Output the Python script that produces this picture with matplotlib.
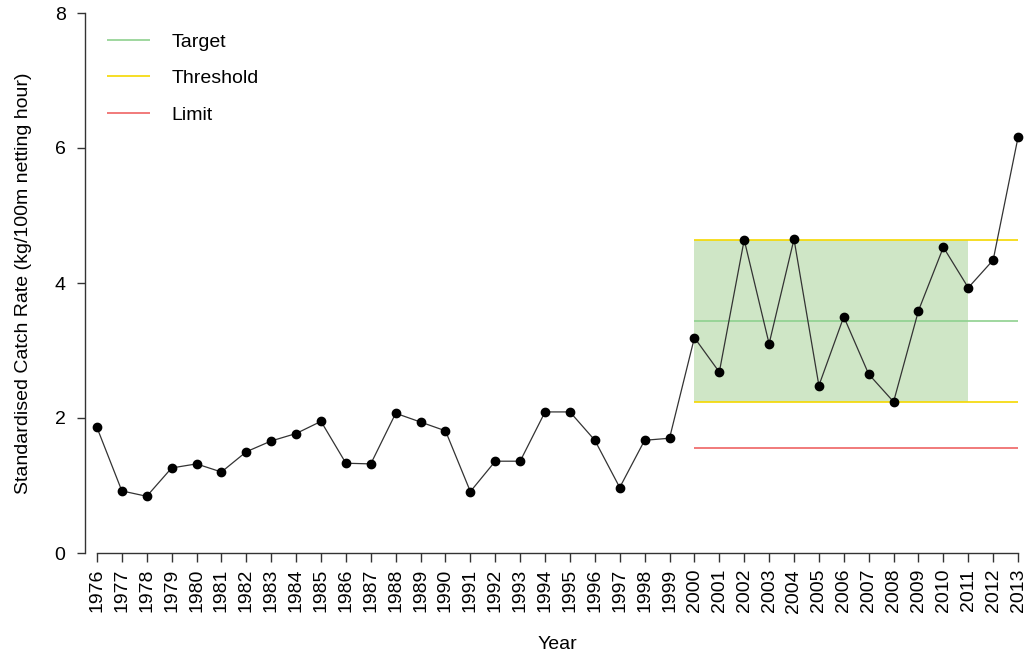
# Standardised catch rate by year with target / threshold / limit reference points
import numpy as np
import matplotlib.pyplot as plt
from matplotlib.patches import Rectangle

plt.rcParams['font.family'] = ['Liberation Sans', 'DejaVu Sans']

years = np.arange(1976, 2014)
catch_rate = [1.86, 0.92, 0.84, 1.26, 1.32, 1.20, 1.50, 1.66, 1.77, 1.95,
              1.33, 1.32, 2.07, 1.94, 1.81, 0.91, 1.36, 1.36, 2.09, 2.09,
              1.67, 0.97, 1.67, 1.70, 3.19, 2.68, 4.64, 3.10, 4.65, 2.48,
              3.50, 2.65, 2.24, 3.59, 4.53, 3.93, 4.34, 6.16]

# reference points
target = 3.44
threshold_low = 2.23
threshold_high = 4.64
limit = 1.56
ref_start, ref_end, box_end = 2000, 2013, 2011

fig = plt.figure(figsize=(10.27, 6.56), dpi=100)
ax = fig.add_axes([85 / 1027, 103 / 656, 945 / 1027, 540 / 656])

# green band between the thresholds
ax.add_patch(Rectangle((ref_start, threshold_low), box_end - ref_start,
                       threshold_high - threshold_low, facecolor='#cfe6c6',
                       edgecolor='none', zorder=1))

ax.hlines(target, ref_start, ref_end, color='#8fd18f', lw=1.2, zorder=2, label='Target')
ax.hlines([threshold_high, threshold_low], ref_start, ref_end, color='#f5d800',
          lw=1.2, zorder=2, label='Threshold')
ax.hlines(limit, ref_start, ref_end, color='#f07070', lw=1.3, zorder=2, label='Limit')

ax.plot(years, catch_rate, color='#333333', lw=0.9, zorder=3)
ax.plot(years, catch_rate, 'o', color='black', ms=6, zorder=4)

ax.set_xlim(1975.52, 2013.48)
ax.set_ylim(0, 8)
ax.set_xticks(years)
ax.set_xticklabels([str(y) for y in years], rotation=90, fontsize=14)
ax.set_yticks([0, 2, 4, 6, 8])
ax.tick_params(axis='y', labelsize=14, direction='out', length=6, width=1,
               colors='#333333', labelcolor='black', pad=8)
ax.tick_params(axis='x', direction='out', length=6.5, width=1,
               colors='#333333', labelcolor='black', pad=5)

for s in ['top', 'right']:
    ax.spines[s].set_visible(False)
ax.spines['left'].set_bounds(0, 8)
ax.spines['bottom'].set_bounds(1976, 2013)
for s in ['left', 'bottom']:
    ax.spines[s].set_color('#333333')
    ax.spines[s].set_linewidth(1)

ax.set_xlabel('Year', fontsize=14, labelpad=17)
ax.set_ylabel('Standardised Catch Rate (kg/100m netting hour)', fontsize=14, labelpad=16)

ax.legend(loc='upper left', frameon=False, fontsize=14, handlelength=2.2,
          handletextpad=1.1, labelspacing=0.97, bbox_to_anchor=(0.005, 0.995))

fig.savefig('out.png', dpi=100)
